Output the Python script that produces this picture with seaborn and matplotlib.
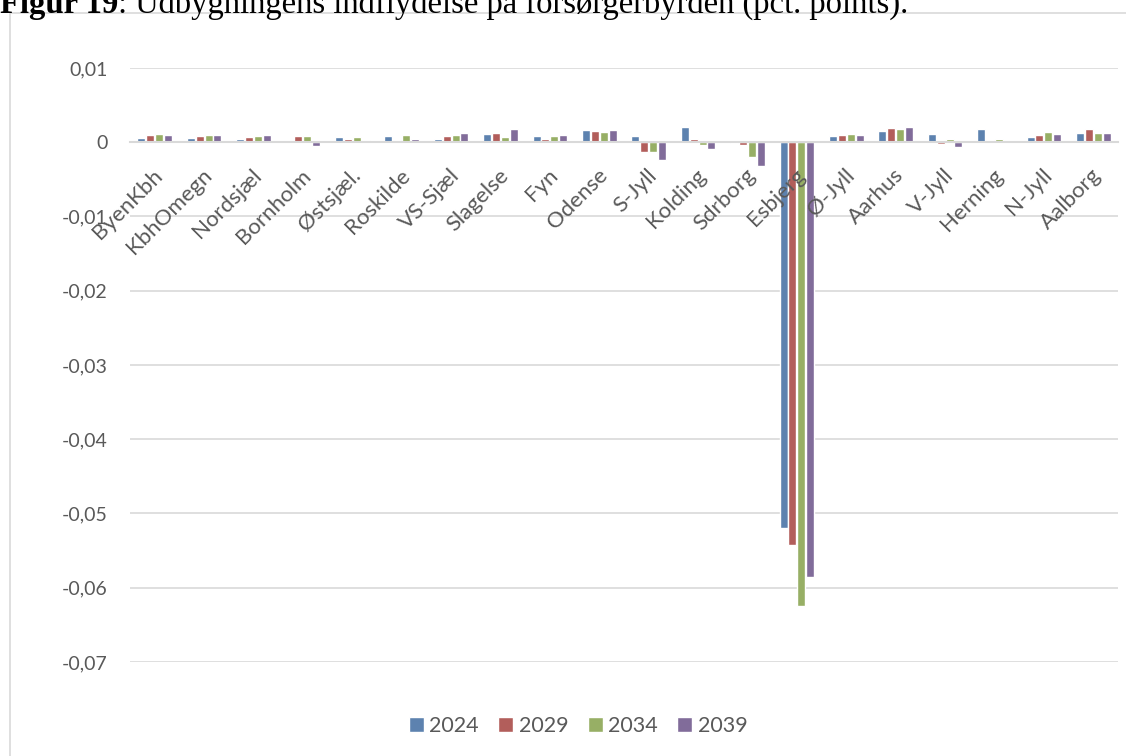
import matplotlib
matplotlib.use("Agg")
import matplotlib.pyplot as plt
from matplotlib.patches import Rectangle
from matplotlib.ticker import FuncFormatter
from matplotlib.transforms import offset_copy
import seaborn as sns
import pandas as pd

regions = ["ByenKbh", "KbhOmegn", "Nordsjæl", "Bornholm", "Østsjæl.", "Roskilde",
           "VS-Sjæl", "Slagelse", "Fyn", "Odense", "S-Jyll", "Kolding", "Sdrborg",
           "Esbjerg", "Ø-Jyll", "Aarhus", "V-Jyll", "Herning", "N-Jyll", "Aalborg"]
years = ["2024", "2029", "2034", "2039"]

v2024 = [0.0006, 0.00055, 0.0004, 0.0002, 0.0007, 0.0009, 0.0005, 0.00108, 0.0008, 0.00166,
         0.0008, 0.0021, -0.0001, -0.0519, 0.0009, 0.0015, 0.00117, 0.0018, 0.00067, 0.0013]
v2029 = [0.00103, 0.00085, 0.00067, 0.0008, 0.0004, 0.0003, 0.00085, 0.0012, 0.0004, 0.0015,
         -0.00135, 0.0004, -0.0004, -0.0543, 0.00094, 0.0019, -0.0003, 0.0003, 0.00094, 0.00175]
v2034 = [0.00108, 0.00103, 0.00085, 0.0009, 0.00067, 0.00094, 0.001, 0.0007, 0.0008, 0.00135,
         -0.0013, -0.0004, -0.002, -0.0624, 0.00108, 0.00175, 0.0004, 0.0005, 0.00135, 0.0012]
v2039 = [0.00103, 0.00094, 0.00103, -0.00045, 0.00027, 0.00045, 0.00125, 0.00175, 0.00094, 0.00166,
         -0.0024, -0.00085, -0.0032, -0.0586, 0.00094, 0.002, -0.00067, 0.0, 0.0011, 0.0012]

colors = ["#4F81BD", "#C0504D", "#9BBB59", "#8064A2"]
yticks = [0.01, 0, -0.01, -0.02, -0.03, -0.04, -0.05, -0.06, -0.07]

df = pd.DataFrame({
    "region": regions * 4,
    "year": [y for y in years for _ in regions],
    "value": v2024 + v2029 + v2034 + v2039,
})

sns.set_theme(style="white")
plt.rcParams["font.family"] = ["Lato", "DejaVu Sans"]

fig = plt.figure(figsize=(11.26, 7.56), dpi=100)
ax = fig.add_axes([130 / 1126, 1 - 662 / 756, 988 / 1126, (662 - 68) / 756])

sns.barplot(data=df, x="region", y="value", hue="year", palette=colors,
            width=0.72, gap=0.1, ax=ax, legend=True, zorder=2)

ax.set_ylim(-0.07, 0.01)
ax.set_xlim(-0.5, len(regions) - 0.5)
ax.set_yticks(yticks)
ax.yaxis.set_major_formatter(FuncFormatter(
    lambda v, p: "0" if abs(v) < 1e-12 else (f"{v:.2f}").replace(".", ",")))
ax.yaxis.grid(True, color="#d9d9d9", linewidth=1.2)
ax.set_axisbelow(True)
ax.set_xlabel("")
ax.set_ylabel("")

for s in ["top", "right", "left"]:
    ax.spines[s].set_visible(False)
ax.spines["bottom"].set_position(("data", 0))
ax.spines["bottom"].set_color("#d9d9d9")
ax.spines["bottom"].set_linewidth(1.5)

ax.tick_params(axis="both", length=0, colors="#595959")
ax.tick_params(axis="y", pad=16, labelsize=14)
ax.set_xticks(range(len(regions)))
ax.set_xticklabels([])

# category names, rotated and drawn on top of the bars
label_tr = offset_copy(ax.transData, fig=fig, x=5, y=-30, units="dots")
for i, name in enumerate(regions):
    ax.text(i, 0, name, transform=label_tr, rotation=45, rotation_mode="anchor",
            ha="right", va="center", fontsize=16, color="#595959", zorder=5)

handles, labels = ax.get_legend_handles_labels()
ax.get_legend().remove()
fig.legend(handles, labels, loc="center", bbox_to_anchor=(578 / 1126, 1 - 726 / 756),
           ncol=4, frameon=False, fontsize=15.5, handlelength=0.7, handleheight=0.75,
           handletextpad=0.25, columnspacing=0.9, labelcolor="#595959")

# chart frame
fig.patches.append(Rectangle((10 / 1126, -0.02), 1.2, (756 - 13) / 756 + 0.02,
                             transform=fig.transFigure, fill=False,
                             edgecolor="#d9d9d9", linewidth=1.2))

# caption above the chart
base_y = 1 - 13 / 756
t1 = fig.text(0.0, base_y, "Figur 19", family="Liberation Serif", weight="bold",
              fontsize=23.5, va="baseline", ha="left", color="black")
renderer = fig.canvas.get_renderer()
x_end = t1.get_window_extent(renderer).x1 / fig.bbox.width
fig.text(x_end, base_y, ": Udbygningens indflydelse på forsørgerbyrden (pct. points).",
         family="Liberation Serif", fontsize=23.5, va="baseline", ha="left", color="black")

fig.savefig("out.png", dpi=100)
